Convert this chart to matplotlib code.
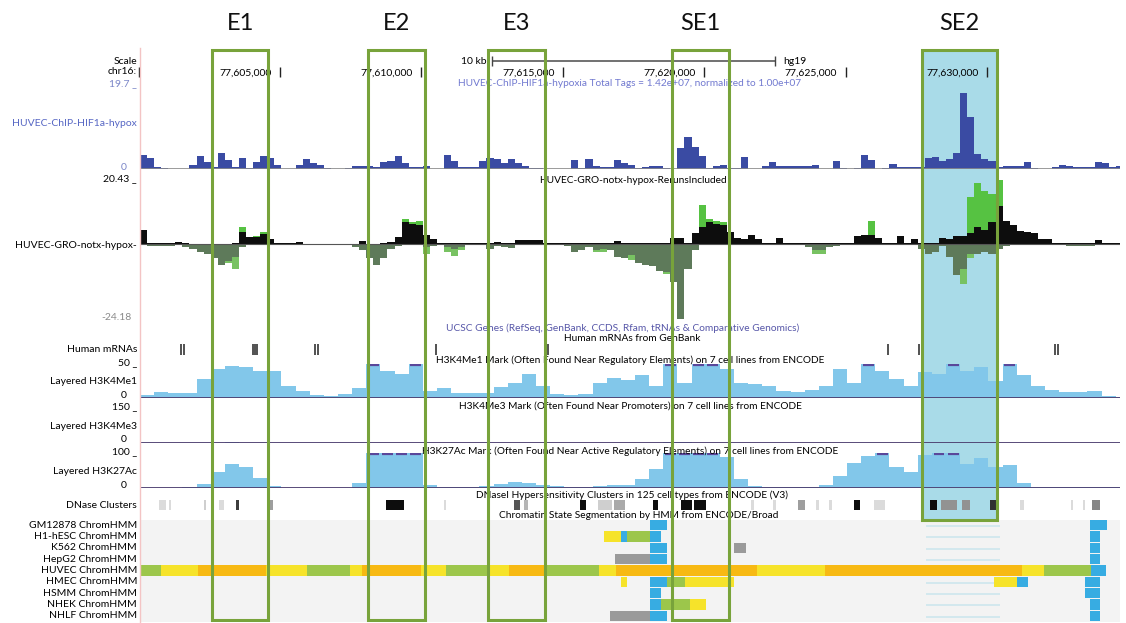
import matplotlib
matplotlib.use("Agg")
import matplotlib.pyplot as plt
import numpy as np
from matplotlib.patches import Rectangle
from matplotlib.lines import Line2D

plt.rcParams['font.family'] = ['Lato', 'DejaVu Sans']

# ---------------- data ----------------
CHR_START = 77600000          # chr16 offset, positions below in kb from here
VIEW_KB = (0.05, 34.70)
FINE_BIN_KB = 0.25
COARSE_BIN_KB = 0.5

chip = [3.2, 2.5, 0.5, 0.2, 0.1, 0.1, 0.1, 1.0, 2.9, 1.6,
        0.5, 3.7, 2.0, 0.4, 2.6, 0.3, 1.6, 2.9, 2.5, 1.0,
        0.05, 0.05, 1.0, 2.3, 1.3, 1.0, 0.3, 0.1, 0.1, 0.3,
        0.8, 0.8, 0.6, 0.5, 1.6, 1.8, 2.9, 1.5, 0.5, 0.4,
        0.8, 0.1, 0.1, 3.3, 1.8, 0.5, 0.5, 0.5, 1.8, 2.5,
        2.3, 1.3, 2.4, 1.5, 0.6, 0.3, 0.2, 0.1, 0.1, 0.1,
        0.1, 2.0, 0.3, 2.3, 0.6, 0.5, 0.5, 2.2, 1.5, 1.0,
        0.2, 0.4, 0.6, 0.6, 0.3, 0.1, 4.8, 7.4, 5.0, 3.0,
        0.2, 0.8, 1.0, 0.2, 0.3, 2.8, 0.05, 0.05, 0.6, 1.6,
        0.8, 0.7, 0.8, 0.7, 0.8, 0.9, 0.05, 0.05, 1.8, 0.3,
        0.05, 0.3, 3.3, 2.2, 0.05, 0.3, 1.2, 0.5, 0.5, 0.5,
        0.4, 2.5, 2.8, 1.8, 2.4, 3.8, 17.5, 12.0, 3.5, 2.3,
        1.8, 0.5, 0.6, 0.8, 0.8, 1.6, 0.3, 0.05, 0.05, 0.5,
        1.0, 0.6, 0.5, 0.5, 0.5, 1.6, 1.4, 0.5, 0.8]

gro_plus_black = [4.5, 0.3, 0.2, 0.2, 0.3, 0.8, 0.2, 0.1, 0.1, 0.1,
                  0.1, 0.1, 0.1, 0.3, 4.0, 2.4, 2.2, 3.2, 1.5, 0.5,
                  0.2, 0.2, 0.8, 0.1, 0.1, 0.1, 0.1, 0.1, 0.1, 0.1,
                  0.1, 1.0, 0.1, 0.1, 0.2, 0.8, 2.4, 7.0, 6.5, 6.0,
                  3.0, 1.5, 0.2, 0.2, 0.2, 0.2, 0.2, 0.2, 0.2, 0.3,
                  0.8, 0.3, 0.3, 1.2, 1.4, 1.4, 1.2, 0.5, 0.2, 0.2,
                  0.2, 0.2, 0.2, 0.2, 0.2, 0.2, 0.2, 1.0, 0.2, 0.2,
                  0.2, 0.2, 0.2, 0.2, 0.3, 1.9, 1.9, 0.5, 3.6, 5.5,
                  7.0, 6.5, 6.0, 4.0, 1.9, 1.5, 3.0, 1.6, 0.3, 0.3,
                  1.9, 0.3, 0.2, 0.2, 0.2, 0.2, 0.2, 0.2, 0.2, 0.2,
                  0.3, 2.5, 3.0, 3.0, 1.9, 0.3, 0.3, 2.5, 0.3, 1.5,
                  0.2, 0.3, 0.5, 1.9, 1.5, 2.5, 2.5, 3.6, 5.3, 4.5,
                  7.0, 12.0, 7.5, 6.0, 4.2, 4.0, 3.6, 1.6, 1.5, 0.2,
                  0.2, 0.2, 0.2, 0.2, 0.2, 1.3, 0.2, 0.2, 0.2]

gro_plus_green = [0, 0, 0, 0, 0, 0, 0, 0, 0, 0,
                  0, 0, 0, 0, 5.5, 0, 2.6, 3.8, 0, 0,
                  0, 0, 0, 0, 0, 0, 0, 0, 0, 0,
                  0, 0, 0, 0, 0, 0, 0, 8.0, 7.0, 7.5,
                  3.0, 0, 0, 0, 0, 0, 0, 0, 0, 0,
                  0, 0, 0, 0, 0, 0, 0, 0, 0, 0,
                  0, 0, 0, 0, 0, 0, 0, 0, 0, 0,
                  0, 0, 0, 0, 0, 0, 0, 0, 0, 12.6,
                  8.0, 7.5, 7.0, 0, 0, 0, 0, 0, 0, 0,
                  0, 0, 0, 0, 0, 0, 0, 0, 0, 0,
                  0, 0, 0, 7.5, 0, 0, 0, 0, 0, 0,
                  0, 0, 0, 0, 0, 0, 0, 15.0, 19.5, 17.0,
                  16.0, 20.4, 5.0, 3.0, 0, 0, 0, 0, 0, 0,
                  0, 0, 0, 0, 0, 0, 0, 0, 0]

gro_minus_dark = [0, -0.5, -0.5, -0.5, -0.5, -0.3, -0.8, -1.5, -2.5, -3.0,
                  -4.5, -6.5, -5.5, -4.0, -1.0, -0.3, -0.3, -0.3, -0.3, -0.3,
                  -0.3, -0.3, -0.3, -0.3, -0.3, -0.3, -0.3, -0.3, -0.3, -0.3,
                  -0.8, -2.0, -4.5, -6.5, -4.5, -1.5, -0.5, -0.3, -0.3, -0.3,
                  -1.0, -0.5, -0.3, -1.0, -1.5, -1.0, -0.3, -0.3, -0.3, -1.5,
                  -0.5, -1.0, -1.2, -0.3, -0.3, -0.3, -0.3, -0.3, -0.3, -0.3,
                  -0.5, -2.5, -2.0, -0.8, -2.0, -1.5, -2.0, -4.0, -4.5, -3.5,
                  -6.0, -6.5, -7.0, -8.5, -9.0, -12.0, -24.0, -8.0, -2.0, -0.3,
                  -0.3, -0.3, -0.3, -0.3, -0.3, -0.3, -0.3, -0.3, -0.3, -0.3,
                  -0.3, -0.3, -0.3, -0.3, -1.0, -2.0, -2.0, -1.0, -0.5, -0.3,
                  -0.3, -0.3, -0.3, -0.3, -0.3, -0.3, -0.3, -0.3, -0.3, -0.3,
                  -1.5, -3.0, -2.5, -0.5, -4.0, -9.9, -8.0, -3.0, -3.0, -2.5,
                  -3.0, -1.5, -0.5, -0.3, -0.3, -0.3, -0.3, -0.3, -0.3, -0.3,
                  -0.3, -0.5, -0.5, -0.5, -0.5, -0.3, -0.3, -0.3, -0.3]

gro_minus_green = [0, 0, 0, 0, 0, 0, 0, 0, 0, -3.3,
                   0, 0, -6.0, -8.0, 0, 0, 0, 0, 0, 0,
                   0, 0, 0, 0, 0, 0, 0, 0, 0, 0,
                   0, 0, 0, 0, 0, 0, 0, 0, 0, 0,
                   -3.0, 0, 0, -2.5, -3.9, -2.0, 0, 0, 0, 0,
                   0, 0, 0, 0, 0, 0, 0, 0, 0, 0,
                   0, 0, 0, 0, -2.6, -2.6, 0, 0, 0, -5.0,
                   0, 0, 0, 0, -9.5, 0, 0, 0, 0, 0,
                   0, 0, 0, 0, 0, 0, 0, 0, 0, 0,
                   0, 0, 0, 0, 0, -3.0, -3.0, 0, 0, 0,
                   0, 0, 0, 0, 0, 0, 0, 0, 0, 0,
                   0, 0, 0, 0, 0, 0, -12.7, -4.5, 0, 0,
                   0, 0, 0, 0, 0, 0, 0, 0, 0, 0,
                   0, 0, 0, 0, 0, 0, 0, 0, 0]

h3k4me1 = [5, 9, 7, 8, 28, 42, 47, 45, 40, 40,
           18, 11, 4, 3, 6, 15, 52, 40, 35, 52,
           10, 15, 8, 7, 8, 16, 22, 35, 18, 6,
           5, 6, 22, 30, 26, 34, 18, 52, 22, 52,
           52, 42, 22, 21, 17, 10, 9, 12, 17, 42,
           22, 52, 40, 28, 18, 38, 35, 52, 40, 45,
           25, 52, 34, 18, 12, 9, 9, 10, 3, 2]

h3k4me3 = [1, 1, 1, 1, 1, 2, 5, 2, 1, 1,
           1, 1, 1, 1, 1, 1, 1, 1, 1, 1,
           1, 1, 1, 1, 1, 1, 1, 1, 1, 1,
           1, 1, 1, 1, 1, 1, 2, 3, 3, 2,
           1, 1, 1, 1, 1, 1, 1, 1, 1, 1,
           1, 1, 1, 1, 1, 1, 1, 1, 1, 1,
           1, 1, 1, 1, 1, 1, 1, 1, 1, 1]

h3k27ac = [1, 1, 1, 2, 12, 45, 70, 60, 28, 5,
           1, 1, 1, 1, 1, 15, 105, 105, 105, 105,
           8, 4, 3, 4, 5, 12, 18, 15, 10, 5,
           3, 4, 6, 8, 10, 25, 55, 105, 105, 105,
           105, 90, 25, 5, 3, 2, 2, 3, 10, 35,
           72, 92, 100, 60, 45, 95, 105, 105, 68, 87,
           60, 65, 15, 3, 3, 3, 3, 3, 3, 3]

mrna_kb = [1.50, 1.61, 4.04, 4.11, 4.18, 6.24, 6.34, 10.52, 14.48,
           26.50, 27.59, 32.40, 32.51]

dnase_start = [0.72, 1.08, 2.31, 2.84, 3.44, 4.65, 8.75, 10.80, 13.27, 13.63,
               15.61, 16.25, 16.81, 18.19, 19.18, 19.64, 21.65, 22.43, 23.32, 23.95,
               24.40, 25.30, 26.00, 27.98, 28.37, 29.12, 30.11, 31.17, 32.97, 33.39, 33.71]
dnase_end = [0.97, 1.15, 2.38, 3.02, 3.55, 4.75, 9.38, 10.87, 13.49, 13.77,
             15.82, 16.74, 17.20, 18.37, 19.57, 20.06, 21.75, 22.53, 23.56, 24.05,
             24.50, 25.51, 26.39, 28.23, 28.94, 29.40, 30.35, 31.31, 33.04, 33.46, 33.99]
dnase_score = [0.15, 0.15, 0.2, 0.15, 0.8, 0.4, 1.0, 0.15, 0.7, 0.3,
               1.0, 0.2, 0.35, 1.0, 1.0, 1.0, 0.15, 0.15, 0.4, 0.15,
               0.15, 1.0, 0.15, 1.0, 0.45, 0.45, 0.85, 0.15, 0.15, 0.15, 0.5]

hmm_rows = ['GM12878', 'H1-hESC', 'K562', 'HepG2', 'HUVEC', 'HMEC', 'HSMM', 'NHEK', 'NHLF']
hmm_segments = [
    [(18.08, 18.68, 'B'), (33.64, 34.24, 'B')],
    [(16.46, 17.06, 'Y'), (17.06, 17.27, 'B'), (17.27, 18.08, 'G'), (18.08, 18.47, 'B'), (33.64, 34.00, 'B')],
    [(18.08, 18.68, 'B'), (21.05, 21.48, 'K'), (33.64, 34.00, 'B')],
    [(16.85, 18.08, 'K'), (18.08, 18.68, 'B'), (33.64, 34.00, 'B')],
    [(0.05, 0.79, 'G'), (0.79, 2.10, 'Y'), (2.10, 4.51, 'O'), (4.51, 5.95, 'Y'), (5.95, 7.47, 'G'),
     (7.47, 7.90, 'Y'), (7.90, 9.99, 'O'), (9.99, 10.87, 'Y'), (10.87, 12.35, 'G'), (12.35, 13.10, 'Y'),
     (13.10, 14.41, 'O'), (14.41, 16.28, 'G'), (16.28, 16.88, 'Y'), (16.88, 21.87, 'O'), (21.87, 24.27, 'Y'),
     (24.27, 31.24, 'O'), (31.24, 32.02, 'Y'), (32.02, 33.68, 'G'), (33.68, 34.21, 'B')],
    [(17.06, 17.27, 'Y'), (18.08, 18.68, 'B'), (18.68, 19.32, 'G'), (19.32, 21.05, 'Y'),
     (30.25, 31.06, 'Y'), (31.06, 31.45, 'B'), (33.47, 34.00, 'B')],
    [(18.08, 18.47, 'B'), (33.47, 34.00, 'B')],
    [(18.08, 18.47, 'B'), (18.47, 19.50, 'G'), (19.50, 20.06, 'Y'), (33.64, 34.00, 'B')],
    [(16.67, 18.08, 'K'), (18.08, 18.68, 'B'), (33.64, 34.00, 'B')],
]
hmm_colors = {'G': '#9cc64b', 'Y': '#f6e32a', 'O': '#f7b913', 'B': '#37ace2', 'K': '#9a9a9a'}

box_names = ['E1', 'E2', 'E3', 'SE1', 'SE2']
box_start_kb = [2.60, 8.11, 12.36, 18.86, 27.70]
box_end_kb = [4.58, 10.12, 14.37, 20.88, 30.35]

chr_ticks_kb = [5, 10, 15, 20, 25, 30]
scale_bar_kb = (12.5, 22.5)

# ---------------- layout helpers ----------------
W, H = 1126, 623
fig = plt.figure(figsize=(W / 100, H / 100), dpi=100)
X0, X1 = 140, 1120


def track_axes(y_top, y_bot, z=1):
    ax = fig.add_axes([X0 / W, 1 - y_bot / H, (X1 - X0) / W, (y_bot - y_top) / H])
    ax.set_xlim(*VIEW_KB)
    ax.axis('off')
    ax.set_zorder(z)
    ax.patch.set_visible(False)
    return ax


def ftext(x, y, s, **kw):
    kw.setdefault('va', 'center')
    kw.setdefault('fontsize', 7.5)
    fig.text(x / W, 1 - y / H, s, **kw)


def edges(n, step):
    return VIEW_KB[0] + step * np.arange(n + 1)


GREEN_BOX = '#78a33b'
SE_FILL = '#a9dbe8'
HIST_BLUE = '#82c7ea'
PURPLE = '#5a479a'

# background axes (genomic x, pixel y)
bg = track_axes(0, H, z=0)
bg.set_ylim(H, 0)
# overlay axes
ov = track_axes(0, H, z=5)
ov.set_ylim(H, 0)

# SE2 shading
i_se = box_names.index('SE2')
bg.add_patch(Rectangle((box_start_kb[i_se], 50), box_end_kb[i_se] - box_start_kb[i_se], 470,
                       facecolor=SE_FILL, edgecolor='none', zorder=0))

# pink left border
fig.add_artist(Line2D([139.5 / W] * 2, [1 - 48 / H, 1 - 622 / H], color='#f3c4c4', lw=1.0,
                      transform=fig.transFigure))

# ---------------- ruler ----------------
ftext(137, 61, 'Scale', ha='right')
ftext(137, 72, 'chr16:', ha='right')
bg.vlines(VIEW_KB[0] - 0.02, 67, 77, color='#222', lw=1.0, clip_on=False)
bg.hlines(61, *scale_bar_kb, color='#666', lw=1.3)
bg.vlines(scale_bar_kb, 56, 66, color='#444', lw=1.0)
bg.text(scale_bar_kb[0] - 0.2, 61, '10 kb', ha='right', va='center', fontsize=7.5)
bg.text(scale_bar_kb[1] + 0.3, 61, 'hg19', ha='left', va='center', fontsize=7.5)
for k in chr_ticks_kb:
    bg.vlines(k, 67, 77, color='#222', lw=1.0)
    bg.text(k - 0.3, 73, f"{CHR_START + k * 1000:,}", ha='right', va='center', fontsize=7.5)

# ---------------- ChIP track ----------------
ax = track_axes(84, 169)
ax.set_ylim(0, 19.7)
ax.stairs(chip, edges(len(chip), FINE_BIN_KB), fill=True, color='#3a4ba3', lw=0)
ax.axhline(0, color='#8a8a8a', lw=1.2)
ftext(137, 84, '19.7 _', ha='right', color='#7b86c8')
ftext(137, 124, 'HUVEC-ChIP-HIF1a-hypox', ha='right', color='#5666c4')
ftext(127, 167, '0', ha='right', color='#7b86c8')
ftext(630, 84, 'HUVEC-ChIP-HIF1a-hypoxia Total Tags = 1.42e+07, normalized to 1.00e+07',
      ha='center', color='#7179d0', fontsize=7.3)

# ---------------- GRO track ----------------
ax = track_axes(180, 320)
ax.set_ylim(-24.18, 20.43)
e = edges(len(gro_plus_black), FINE_BIN_KB)
ax.stairs(gro_plus_green, e, fill=True, color='#56c242', lw=0, baseline=0)
ax.stairs(gro_plus_black, e, fill=True, color='#0d0d0d', lw=0, baseline=0)
ax.stairs(gro_minus_green, e, fill=True, color='#78c262', lw=0, baseline=0)
ax.stairs(gro_minus_dark, e, fill=True, color='#5e7a5a', lw=0, baseline=0)
ax.axhline(0, color='#555', lw=0.8)
ftext(137, 179, '20.43 _', ha='right')
ftext(137, 245, 'HUVEC-GRO-notx-hypox-', ha='right')
ftext(132, 318, '-24.18', ha='right', color='#8a8a8a')
ftext(633, 180, 'HUVEC-GRO-notx-hypox-RerunsIncluded', ha='center', fontsize=7.3)

# ---------------- genes / mRNAs ----------------
ftext(623, 328, 'UCSC Genes (RefSeq, GenBank, CCDS, Rfam, tRNAs & Comparative Genomics)',
      ha='center', color='#5656a8', fontsize=7.3)
ftext(632, 339, 'Human mRNAs from GenBank', ha='center', fontsize=7.3)
ftext(137, 349, 'Human mRNAs', ha='right')
bg.vlines(mrna_kb, 344, 355, color='#333', lw=1.2)

# ---------------- histone tracks ----------------
def histone(vals, y_top, y_bot, ymax, title, label, top_lbl, title_y):
    a = track_axes(y_top, y_bot)
    a.set_ylim(0, ymax)
    ed = edges(len(vals), COARSE_BIN_KB)
    a.stairs(vals, ed, fill=True, color=HIST_BLUE, lw=0)
    for i, v in enumerate(vals):
        if v >= ymax:
            a.hlines(ymax * 0.97, ed[i] + 0.06, ed[i + 1] - 0.06, color=PURPLE, lw=1.6)
    a.axhline(0, color='#4b3d6e', lw=1.3)
    ftext(137, y_top - 1, top_lbl, ha='right')
    ftext(137, (y_top + y_bot) / 2 + 1, label, ha='right')
    ftext(127, y_bot - 3, '0', ha='right')
    ftext(630, title_y, title, ha='center', fontsize=7.3)
    return a

histone(h3k4me1, 364, 398, 50,
        'H3K4Me1 Mark (Often Found Near Regulatory Elements) on 7 cell lines from ENCODE',
        'Layered H3K4Me1', '50 _', 360)
histone(h3k4me3, 408, 443, 150,
        'H3K4Me3 Mark (Often Found Near Promoters) on 7 cell lines from ENCODE',
        'Layered H3K4Me3', '150 _', 406)
histone(h3k27ac, 453, 488, 100,
        'H3K27Ac Mark (Often Found Near Active Regulatory Elements) on 7 cell lines from ENCODE',
        'Layered H3K27Ac', '100 _', 451)

# ---------------- DNase clusters ----------------
ftext(632, 495, 'DNaseI Hypersensitivity Clusters in 125 cell types from ENCODE (V3)',
      ha='center', fontsize=7.3)
ftext(137, 505, 'DNase Clusters', ha='right')
for s, t, sc in zip(dnase_start, dnase_end, dnase_score):
    g = 1 - 0.95 * sc
    bg.add_patch(Rectangle((s, 500), t - s, 10, facecolor=(g, g, g), edgecolor='none', zorder=2))

# ---------------- ChromHMM ----------------
ftext(639, 516, 'Chromatin State Segmentation by HMM from ENCODE/Broad', ha='center', fontsize=7.3)
bg.add_patch(Rectangle((VIEW_KB[0], 520), VIEW_KB[1] - VIEW_KB[0], 102,
                       facecolor='#f3f3f3', edgecolor='none', zorder=1))
row_y0, row_h = 525, 11.35
for r, (name, segs) in enumerate(zip(hmm_rows, hmm_segments)):
    yc = row_y0 + r * row_h
    ftext(137, yc, f'{name} ChromHMM', ha='right')
    if name != 'HUVEC':
        bg.hlines(yc + 1, box_start_kb[i_se] + 0.15, box_end_kb[i_se] + 0.1, color='#cde6ee', lw=1.2, zorder=2)
    for s, t, st in segs:
        bg.add_patch(Rectangle((s, yc - 5.2), t - s, 10.4, facecolor=hmm_colors[st],
                               edgecolor='none', zorder=3))

# ---------------- enhancer boxes ----------------
for name, s, t in zip(box_names, box_start_kb, box_end_kb):
    y_bot = 520 if name == 'SE2' else 620
    ov.add_patch(Rectangle((s, 50), t - s, y_bot - 50, fill=False, edgecolor=GREEN_BOX, lw=2.2, zorder=5))
    ov.text((s + t) / 2, 24, name, ha='center', va='center', fontsize=17, color='#111', clip_on=False)

fig.savefig('out.png', dpi=100)
